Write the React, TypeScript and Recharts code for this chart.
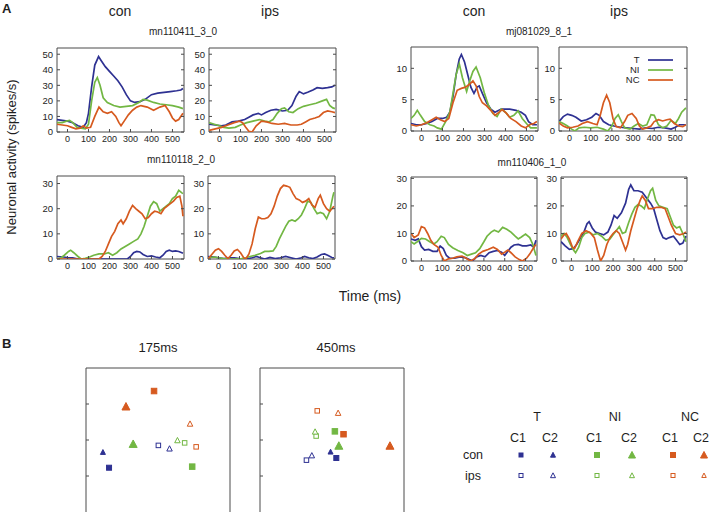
import React from 'react';
import { LineChart, Line, XAxis, YAxis, ScatterChart, Scatter, ReferenceArea } from 'recharts';

const FONT = 'Arial, "Liberation Sans", Helvetica, sans-serif';
const BLUE = '#2e3192';
const GREEN = '#72b743';
const ORANGE = '#d65a1f';
const AXIS = '#4a4a4a';
const INK = '#1e1e1e';

type Pt = [number, number];

// firing rate traces, [time ms, spikes/s]
// mn110411_3_0
const a1T: Pt[] = [[-50,8],[-25,7.5],[0,7],[25,6],[50,4],[75,3],[90,6],[100,12],[115,29],[130,43],[148,48.5],[160,46],[180,42],[200,39],[220,36],[240,33],[260,29],[280,24],[300,20],[320,19],[345,19.5],[370,21],[400,24],[430,25],[460,25.5],[490,26],[520,26.5],[540,27],[550,28]];
const a1NI: Pt[] = [[-50,6],[-25,6],[-5,7],[10,7.5],[25,6],[45,3],[65,2.5],[85,2],[100,5],[115,20],[130,32],[142,35],[155,30],[170,22],[190,19],[220,17],[250,16],[280,16.5],[310,17],[340,19],[360,21],[380,20.5],[410,19],[440,18],[470,17.5],[500,17],[530,16],[550,15]];
const a1NC: Pt[] = [[-50,5],[-25,4.5],[0,4],[20,3],[40,2],[60,2.5],[75,4],[90,2.5],[110,3],[130,10],[150,16],[170,13],[190,12],[210,13],[230,10],[245,6],[255,4],[270,7],[290,11],[310,14],[330,16],[350,17],[380,16],[410,14],[440,16],[465,17],[485,13],[500,9],[515,7],[530,8],[550,12]];
const a2T: Pt[] = [[-50,5],[-20,4.5],[10,4],[30,4.5],[60,6.5],[90,7],[120,8],[140,9.5],[160,11],[185,12],[200,11],[220,12.5],[245,14],[270,14.5],[300,13.5],[325,14],[345,17],[365,23],[380,26],[400,24.5],[420,25.5],[445,27],[465,28.5],[490,28],[515,28.5],[535,29],[550,30]];
const a2NI: Pt[] = [[-50,6],[-25,5],[0,4],[20,3],[45,2.5],[75,3],[100,4.5],[130,6],[160,7],[190,8],[215,7],[235,6.5],[255,8],[275,12],[295,15],[310,15.5],[330,13],[350,12.5],[375,15],[400,16.5],[430,17.5],[460,18.5],[490,20],[510,21],[525,17],[540,15.5],[550,15]];
const a2NC: Pt[] = [[-50,1],[-20,2],[10,3],[40,4.5],[70,6],[95,7],[110,6],[125,3],[140,0.5],[155,0],[175,4],[200,7],[225,6.5],[250,5.5],[280,5],[310,5.5],[340,4.5],[370,4.5],[390,5],[410,6.5],[430,8],[455,9],[475,10],[495,12.5],[515,13.5],[535,13],[550,12.5]];

// mj081029_8_1
const b1T: Pt[] = [[-50,1.2],[-25,1],[0,1],[25,1.2],[50,1.5],[75,2],[100,2],[120,2.2],[135,3],[150,5.5],[165,9],[180,11.5],[190,12.2],[205,11],[220,9],[235,7],[250,6],[265,7],[275,7.2],[290,6],[310,4.5],[330,3.5],[350,3],[380,3.5],[420,3.5],[450,3.3],[475,3],[495,2.5],[510,1.5],[530,1],[550,1]];
const b1NI: Pt[] = [[-50,2],[-35,2.5],[-20,3.3],[-5,2.5],[15,1.5],[40,1],[60,0.8],[75,0.5],[95,0.3],[115,1.5],[135,3],[150,6],[165,9],[180,10.7],[195,8.5],[215,6.3],[230,8],[245,9.5],[260,10.2],[280,8.5],[300,6],[320,4],[340,2.8],[360,2.3],[380,3.5],[400,3],[420,2.2],[440,2.5],[460,3.2],[480,2],[500,1.2],[520,0.5],[550,0.5]];
const b1NC: Pt[] = [[-50,1],[-25,0.8],[0,1],[25,1.3],[50,1.8],[70,2.2],[90,1.8],[110,1.5],[130,2],[150,4.5],[170,6.5],[190,6.8],[210,7],[230,7.5],[245,8],[260,7.2],[275,5.5],[290,4.5],[310,4],[330,3.3],[350,2.5],[370,3],[385,3.4],[405,2.8],[425,2],[450,1.5],[475,0.8],[495,0.5],[515,1],[535,1.2],[550,1.5]];
const b2T: Pt[] = [[-50,1.5],[-30,2.3],[-10,2.7],[10,2.5],[30,2.2],[55,1.6],[80,1.8],[105,2.2],[125,2.8],[140,2.5],[160,1.5],[185,1],[210,0.8],[240,0.6],[270,0.5],[300,0.4],[330,0.3],[360,0.5],[390,0.4],[420,0.6],[450,0.5],[480,0.3],[500,0.6],[520,1],[550,1]];
const b2NI: Pt[] = [[-50,1.5],[-30,1.2],[-10,0.8],[10,0.3],[25,0],[45,0.5],[70,0.6],[100,0.5],[130,0.6],[160,0.3],[180,0],[200,0.8],[215,2],[230,2.6],[245,1.5],[260,0.5],[285,0.3],[305,0.8],[325,1.2],[345,0.8],[365,1],[385,2.6],[400,2.5],[420,1],[440,0.5],[460,0.8],[480,1.7],[500,1.2],[515,2],[530,3],[550,3.7]];
const b2NC: Pt[] = [[-50,1.3],[-30,0.8],[-10,0.5],[15,0.6],[40,0.8],[60,1.2],[85,1.5],[110,1.2],[130,1],[145,2.5],[160,4.5],[175,5.7],[190,4.5],[205,2],[220,0.7],[240,0.5],[260,1.5],[275,2.5],[295,2.8],[315,2],[330,0.8],[345,0.3],[365,0.5],[385,0.8],[400,1.5],[420,1.8],[440,1.6],[460,1.8],[475,1.9],[495,1.2],[515,0.8],[535,0.7],[550,1]];

// mn110118_2_0
const c1T: Pt[] = [[-50,1],[-20,0.8],[0,0.6],[25,0.5],[50,0],[100,0],[150,0],[200,0],[250,0],[285,0],[300,1],[315,2.5],[330,3],[345,2.8],[360,1.8],[380,1],[400,1.2],[420,0.8],[440,0.5],[455,1.5],[470,3],[485,3.5],[500,3],[515,3.2],[530,3],[545,2.5],[550,2.3]];
const c1NI: Pt[] = [[-50,0],[-30,0.5],[-15,1.5],[5,3],[15,3.5],[30,2.5],[50,1],[65,0],[85,0.3],[105,0.8],[125,1.5],[150,2],[175,2],[195,2.5],[215,1.5],[235,2.5],[255,4],[275,5],[295,6],[315,7],[335,8],[350,10],[365,13],[380,17],[395,21],[410,22.8],[425,22],[440,19],[455,20],[470,21],[485,22],[500,24],[515,25],[530,27.3],[545,26.3],[550,26]];
const c1NC: Pt[] = [[-50,0],[0,0],[50,0],[100,0],[150,0],[165,1],[180,3],[195,6],[210,9],[225,11],[240,14],[255,15.5],[265,14],[280,16],[295,19],[310,21.3],[325,20],[340,19],[355,18],[370,16],[385,16.5],[400,18],[415,19],[430,18.7],[445,18],[460,20],[475,21],[490,22],[505,23],[520,24.5],[535,25],[545,21],[550,17]];
const c2T: Pt[] = [[-50,1],[-20,0.8],[0,0.5],[25,0.2],[50,0.5],[75,0.5],[100,0.2],[130,0],[160,0.5],[180,1],[200,0.5],[220,0],[245,0.6],[270,0.2],[295,0.5],[320,1],[345,0.5],[370,0],[395,0.5],[410,1],[430,0.5],[450,0.2],[470,0.8],[490,1.8],[505,2],[520,1.5],[540,0.6],[550,0.5]];
const c2NI: Pt[] = [[-50,0.5],[-20,0.8],[0,0.5],[25,0.2],[50,0],[80,0],[110,0.2],[130,0.5],[150,1],[175,1.5],[200,2.2],[220,3],[240,3],[260,3.2],[275,5],[290,8],[305,10.5],[320,13],[335,15],[350,15.5],[365,15],[380,16],[395,17.5],[410,20],[425,23],[440,22.5],[455,20],[470,18],[485,18.5],[500,18],[515,16],[530,19],[545,25],[550,26.5]];
const c2NC: Pt[] = [[-50,0],[-30,2],[-15,3.5],[0,4.1],[15,3],[30,1.5],[45,0.2],[60,1.5],[75,3.2],[90,3.8],[105,2.5],[120,0.5],[130,0],[145,2],[160,6],[175,12],[190,16.7],[205,16],[220,16],[235,16.5],[250,18],[265,21],[280,25],[295,28],[310,29.3],[325,29],[340,28.5],[355,26],[370,24],[385,23.5],[400,22.5],[415,23],[430,24],[445,21.5],[460,20.5],[475,24],[485,25.4],[500,22],[515,20],[530,19],[545,20.5],[550,21]];

// mn110406_1_0
const d1T: Pt[] = [[-50,8],[-30,7.5],[-15,8],[0,5.2],[15,4],[35,4.2],[55,3.5],[75,3.5],[90,5.4],[105,4.5],[120,2],[135,1],[160,1],[185,1.5],[210,1.2],[230,0.5],[245,0],[265,1.5],[285,2],[305,1.5],[325,3],[345,3.5],[365,3.8],[385,3.2],[400,2],[415,3.5],[430,5],[445,5.8],[465,6],[485,5.5],[505,5.5],[525,5.8],[540,5],[550,7.5]];
const d1NI: Pt[] = [[-50,7],[-35,6.2],[-20,7],[0,8.2],[20,8],[40,7],[60,6.2],[75,7],[95,9],[110,8.5],[130,6],[150,4.8],[175,3.8],[200,3],[220,2],[240,2.5],[260,3],[280,4.5],[300,7],[315,9],[335,10.5],[350,11.2],[370,10.5],[390,12.2],[410,11.5],[430,10.5],[450,9],[465,8],[480,8.7],[500,9.8],[520,8.5],[535,6],[550,2]];
const d1NC: Pt[] = [[-50,10],[-35,8.5],[-15,9.5],[0,12.5],[15,12],[30,10],[45,7.5],[60,6],[80,5],[95,2],[110,0],[130,0.8],[150,1],[170,1.5],[195,1.8],[215,1],[235,0],[255,0.8],[275,2.5],[295,3.5],[320,4.2],[345,5],[365,4.2],[385,2.5],[400,3.2],[415,4],[430,3],[450,1.5],[470,0.5],[485,0],[505,1],[520,2.5],[540,5],[550,6]];
const d2T: Pt[] = [[-50,7],[-30,5.5],[-10,4.2],[10,4.5],[25,6],[45,8.5],[60,10.5],[75,13.5],[85,14.3],[100,12],[115,10.5],[135,10],[155,9.5],[175,10.5],[190,13],[205,16.5],[220,15.5],[240,17.5],[260,21],[275,26],[285,27.6],[300,25.5],[320,25.5],[340,25],[360,23],[380,21],[395,19],[410,15],[425,11],[440,8.5],[455,8],[470,8.5],[490,9],[505,7.5],[520,6],[535,6.5],[550,9]];
const d2NI: Pt[] = [[-50,9],[-35,10],[-20,8.5],[-5,6],[10,4],[20,3],[35,5],[50,8.5],[65,10],[85,10.5],[105,9.5],[125,10],[145,9],[165,7.5],[185,8],[200,9.5],[215,11],[230,12.5],[245,10],[260,10.5],[275,14],[290,17],[305,19.5],[320,20.5],[335,20],[350,19],[365,22.5],[380,25.5],[390,26.4],[405,22],[420,20],[440,19.5],[460,19],[475,16],[490,13],[505,12],[520,12.5],[535,10],[550,7]];
const d2NC: Pt[] = [[-50,8],[-35,9.5],[-25,10],[-10,8],[5,5],[15,4.5],[30,7],[50,10],[70,11],[90,10.3],[110,8.5],[125,4],[140,0],[155,2],[170,6],[185,8.5],[200,10],[215,11],[230,10],[245,7],[260,4],[270,6],[285,11],[300,15],[315,19],[330,22],[340,23.6],[355,22],[370,19],[390,19],[410,19.5],[430,19.5],[450,19],[465,16],[480,13],[500,10],[520,9.5],[540,10],[550,10.5]];

const timeTicks = [0, 100, 200, 300, 400, 500];
const timeDomain: [number, number] = [-50, 555];

// population state space, order: con T C1, con T C2, con NI C1, con NI C2, con NC C1, con NC C2, then ips same
const pop175X = [0.64, 0.47, 2.95, 1.31, 1.89, 1.11, 2.01, 2.32, 2.74, 2.54, 3.06, 2.89];
const pop175Y = [1.23, 1.66, 1.26, 1.89, 3.36, 2.93, 1.85, 1.76, 1.92, 1.99, 1.81, 2.45];
const pop450X = [2.12, 1.96, 2.08, 2.19, 2.32, 3.61, 1.29, 1.44, 1.56, 1.53, 1.59, 2.17];
const pop450Y = [1.5, 1.67, 2.24, 1.84, 2.16, 1.84, 1.44, 1.57, 2.11, 2.23, 2.81, 2.75];
const tasks = ['con', 'ips'];
const groups = ['T', 'NI', 'NC'];
const conds = ['C1', 'C2'];

const groupColor: Record<string, string> = { T: BLUE, NI: GREEN, NC: ORANGE };

type MarkSpec = { group: string; cond: string; task: string };
const marks: MarkSpec[] = [];
tasks.forEach(task => groups.forEach(group => conds.forEach(cond => marks.push({ group, cond, task }))));

function markSize(m: MarkSpec) {
  if (m.task === 'ips') return m.cond === 'C1' ? 4.5 : 5.5;
  if (m.group === 'T') return 5;
  return m.cond === 'C1' ? 5.5 : 8;
}

function Marker({ cx, cy, m, s }: { cx: number; cy: number; m: MarkSpec; s?: number }) {
  const size = s ?? markSize(m);
  const color = groupColor[m.group];
  const fill = m.task === 'con' ? color : '#fff';
  if (m.cond === 'C1') {
    return <rect x={cx - size / 2} y={cy - size / 2} width={size} height={size} fill={fill} stroke={color} strokeWidth={1} />;
  }
  const h = size * 0.87;
  const pts = `${cx},${cy - h / 2 - 0.5} ${cx - size / 2},${cy + h / 2} ${cx + size / 2},${cy + h / 2}`;
  return <polygon points={pts} fill={fill} stroke={color} strokeWidth={1} />;
}

// inward (matlab style) tick marks, labels outside
const TL = 3;
const bottomTick = (label: boolean) => (p: any) => (
  <g>
    <line x1={p.x} x2={p.x} y1={p.y} y2={p.y - TL} stroke={AXIS} />
    {label && <text x={p.x} y={p.y + 10} textAnchor="middle" fontSize={9} fontFamily={FONT} fill={INK}>{p.payload.value}</text>}
  </g>
);
const topTick = (p: any) => <line x1={p.x} x2={p.x} y1={p.y} y2={p.y + TL} stroke={AXIS} />;
const leftTick = (label: boolean) => (p: any) => (
  <g>
    <line x1={p.x} x2={p.x + TL} y1={p.y} y2={p.y} stroke={AXIS} />
    {label && <text x={p.x - 4} y={p.y + 3.3} textAnchor="end" fontSize={9.5} fontFamily={FONT} fill={INK}>{p.payload.value}</text>}
  </g>
);
const rightTick = (p: any) => <line x1={p.x} x2={p.x - TL} y1={p.y} y2={p.y} stroke={AXIS} />;

interface TraceProps {
  left: number; top: number; w: number; h: number;
  yMax: number; yTicks: number[];
  t: Pt[]; ni: Pt[]; nc: Pt[];
}

const toRows = (pts: Pt[]) => pts.map(([t, v]) => ({ t, v }));

function TracePanel({ left, top, w, h, yMax, yTicks, t, ni, nc }: TraceProps) {
  const YW = 30, PAD = 3, XH = 16;
  const series = [
    { key: 'T', pts: t, color: BLUE },
    { key: 'NI', pts: ni, color: GREEN },
    { key: 'NC', pts: nc, color: ORANGE },
  ];
  return (
    <div style={{ position: 'absolute', left: left - YW, top: top - PAD }}>
      <LineChart width={YW + w + PAD} height={PAD + h + XH} margin={{ top: PAD - 1, right: PAD - 1, bottom: 0, left: 0 }}>
        <XAxis xAxisId="b" type="number" dataKey="t" domain={timeDomain} ticks={timeTicks} allowDataOverflow
          height={XH} tickSize={0} tickMargin={0} axisLine={false} tickLine={false} tick={bottomTick(true)} interval={0} />
        <XAxis xAxisId="t" orientation="top" type="number" domain={timeDomain} ticks={timeTicks} allowDataOverflow
          height={1} tickSize={0} tickMargin={0} axisLine={false} tickLine={false} tick={topTick} interval={0} />
        <YAxis yAxisId="l" type="number" domain={[0, yMax]} ticks={yTicks} allowDataOverflow
          width={YW} tickSize={0} tickMargin={0} axisLine={false} tickLine={false} tick={leftTick(true)} interval={0} />
        <YAxis yAxisId="r" orientation="right" type="number" domain={[0, yMax]} ticks={yTicks} allowDataOverflow
          width={1} tickSize={0} tickMargin={0} axisLine={false} tickLine={false} tick={rightTick} interval={0} />
        <ReferenceArea xAxisId="b" yAxisId="l" x1={timeDomain[0]} x2={timeDomain[1]} y1={0} y2={yMax}
          fill="none" stroke={AXIS} strokeWidth={1} ifOverflow="visible" />
        {series.map(s => (
          <Line key={s.key} xAxisId="b" yAxisId="l" data={toRows(s.pts)} dataKey="v" type="linear"
            stroke={s.color} strokeWidth={1.7} dot={false} isAnimationActive={false} />
        ))}
      </LineChart>
    </div>
  );
}

function StatePanel({ left, top, size, xs, ys }: { left: number; top: number; size: number; xs: number[]; ys: number[] }) {
  const q = [1, 2, 3];
  return (
    <div style={{ position: 'absolute', left: left - 2, top: top - 2 }}>
      <ScatterChart width={size + 4} height={size + 2} margin={{ top: 1, right: 1, bottom: 0, left: 0 }}>
        <XAxis xAxisId="b" type="number" dataKey="x" domain={[0, 4]} hide />
        <XAxis xAxisId="t" orientation="top" type="number" dataKey="x" domain={[0, 4]} ticks={q}
          height={1} tickSize={0} tickMargin={0} axisLine={false} tickLine={false} tick={topTick} interval={0} />
        <YAxis yAxisId="l" type="number" dataKey="y" domain={[0, 4]} ticks={q}
          width={2} tickSize={0} tickMargin={0} axisLine={false} tickLine={false} tick={leftTick(false)} interval={0} />
        <YAxis yAxisId="r" orientation="right" type="number" dataKey="y" domain={[0, 4]} ticks={q}
          width={1} tickSize={0} tickMargin={0} axisLine={false} tickLine={false} tick={rightTick} interval={0} />
        <ReferenceArea xAxisId="b" yAxisId="l" x1={0} x2={4} y1={-0.1} y2={4}
          fill="none" stroke={AXIS} strokeWidth={1} ifOverflow="visible" />
        {marks.map((m, i) => (
          <Scatter key={i} xAxisId="b" yAxisId="l" data={[{ x: xs[i], y: ys[i] }]} isAnimationActive={false}
            shape={(p: any) => <Marker cx={p.cx} cy={p.cy} m={m} />} />
        ))}
      </ScatterChart>
    </div>
  );
}

const legendCols = [521, 553, 597, 632, 673, 704];
const legendSizes = [4, 5, 5, 7, 5, 7];
const legendSizesOpen = [4, 5, 4, 5, 4, 4.5];

export default function App() {
  const txt = { fontFamily: FONT, fill: INK };
  return (
    <div style={{ position: 'absolute', left: 0, top: 0, width: 713, height: 513, background: '#fff', overflow: 'hidden' }}>
      <TracePanel left={57} top={48} w={127} h={84} yMax={54} yTicks={[0, 10, 20, 30, 40, 50]} t={a1T} ni={a1NI} nc={a1NC} />
      <TracePanel left={209} top={48} w={127} h={84} yMax={54} yTicks={[0, 10, 20, 30, 40, 50]} t={a2T} ni={a2NI} nc={a2NC} />
      <TracePanel left={411} top={47} w={127} h={84} yMax={13.4} yTicks={[0, 5, 10]} t={b1T} ni={b1NI} nc={b1NC} />
      <TracePanel left={559} top={47} w={128} h={84} yMax={13.4} yTicks={[0, 5, 10]} t={b2T} ni={b2NI} nc={b2NC} />
      <TracePanel left={57} top={176} w={127} h={83} yMax={33} yTicks={[0, 10, 20, 30]} t={c1T} ni={c1NI} nc={c1NC} />
      <TracePanel left={208} top={176} w={127} h={83} yMax={33} yTicks={[0, 10, 20, 30]} t={c2T} ni={c2NI} nc={c2NC} />
      <TracePanel left={411} top={177} w={126} h={84} yMax={30.5} yTicks={[0, 10, 20, 30]} t={d1T} ni={d1NI} nc={d1NC} />
      <TracePanel left={561} top={177} w={126} h={84} yMax={30.5} yTicks={[0, 10, 20, 30]} t={d2T} ni={d2NI} nc={d2NC} />

      <StatePanel left={86} top={368} size={144} xs={pop175X} ys={pop175Y} />
      <StatePanel left={260} top={368} size={144} xs={pop450X} ys={pop450Y} />

      <svg width={713} height={513} style={{ position: 'absolute', left: 0, top: 0, pointerEvents: 'none' }}>
        <text x={2} y={13} fontSize={13} fontWeight="bold" {...txt}>A</text>
        <text x={2} y={348} fontSize={13} fontWeight="bold" {...txt}>B</text>

        <text x={120} y={16} fontSize={14} textAnchor="middle" {...txt}>con</text>
        <text x={270} y={16} fontSize={14} textAnchor="middle" {...txt}>ips</text>
        <text x={474} y={16} fontSize={14} textAnchor="middle" {...txt}>con</text>
        <text x={619} y={16} fontSize={14} textAnchor="middle" {...txt}>ips</text>

        <text x={183} y={34.5} fontSize={10} textAnchor="middle" {...txt}>mn110411_3_0</text>
        <text x={539} y={34.5} fontSize={10} textAnchor="middle" {...txt}>mj081029_8_1</text>
        <text x={181} y={162.5} fontSize={10} textAnchor="middle" {...txt}>mn110118_2_0</text>
        <text x={532} y={165.5} fontSize={10} textAnchor="middle" {...txt}>mn110406_1_0</text>

        <text x={13} y={157} fontSize={13} textAnchor="middle" dominantBaseline="middle" transform="rotate(-90 13 157)" {...txt}>
          Neuronal activity (spikes/s)
        </text>
        <text x={370} y={301} fontSize={14} textAnchor="middle" {...txt}>Time (ms)</text>

        {groups.map((g, i) => (
          <g key={g}>
            <text x={639.5} y={62.5 + i * 10} fontSize={9.5} textAnchor="end" {...txt}>{g}</text>
            <line x1={648} x2={673} y1={60 + i * 10} y2={60 + i * 10} stroke={groupColor[g]} strokeWidth={1.7} />
          </g>
        ))}

        <text x={158} y={352} fontSize={13} textAnchor="middle" {...txt}>175ms</text>
        <text x={336} y={352} fontSize={13} textAnchor="middle" {...txt}>450ms</text>

        <text x={537} y={421} fontSize={12.5} textAnchor="middle" {...txt}>T</text>
        <text x={615} y={421} fontSize={12.5} textAnchor="middle" {...txt}>NI</text>
        <text x={690} y={421} fontSize={12.5} textAnchor="middle" {...txt}>NC</text>
        {legendCols.map((x, i) => (
          <text key={i} x={x - 3} y={442} fontSize={12.5} textAnchor="middle" {...txt}>{conds[i % 2]}</text>
        ))}
        <text x={473} y={459} fontSize={12.5} textAnchor="middle" {...txt}>con</text>
        <text x={473} y={480} fontSize={12.5} textAnchor="middle" {...txt}>ips</text>
        {marks.map((m, i) => {
          const col = i % 6;
          const isCon = m.task === 'con';
          return (
            <Marker key={i} cx={legendCols[col]} cy={isCon ? 455 : 475.5} m={m}
              s={isCon ? legendSizes[col] : legendSizesOpen[col]} />
          );
        })}
      </svg>
    </div>
  );
}
